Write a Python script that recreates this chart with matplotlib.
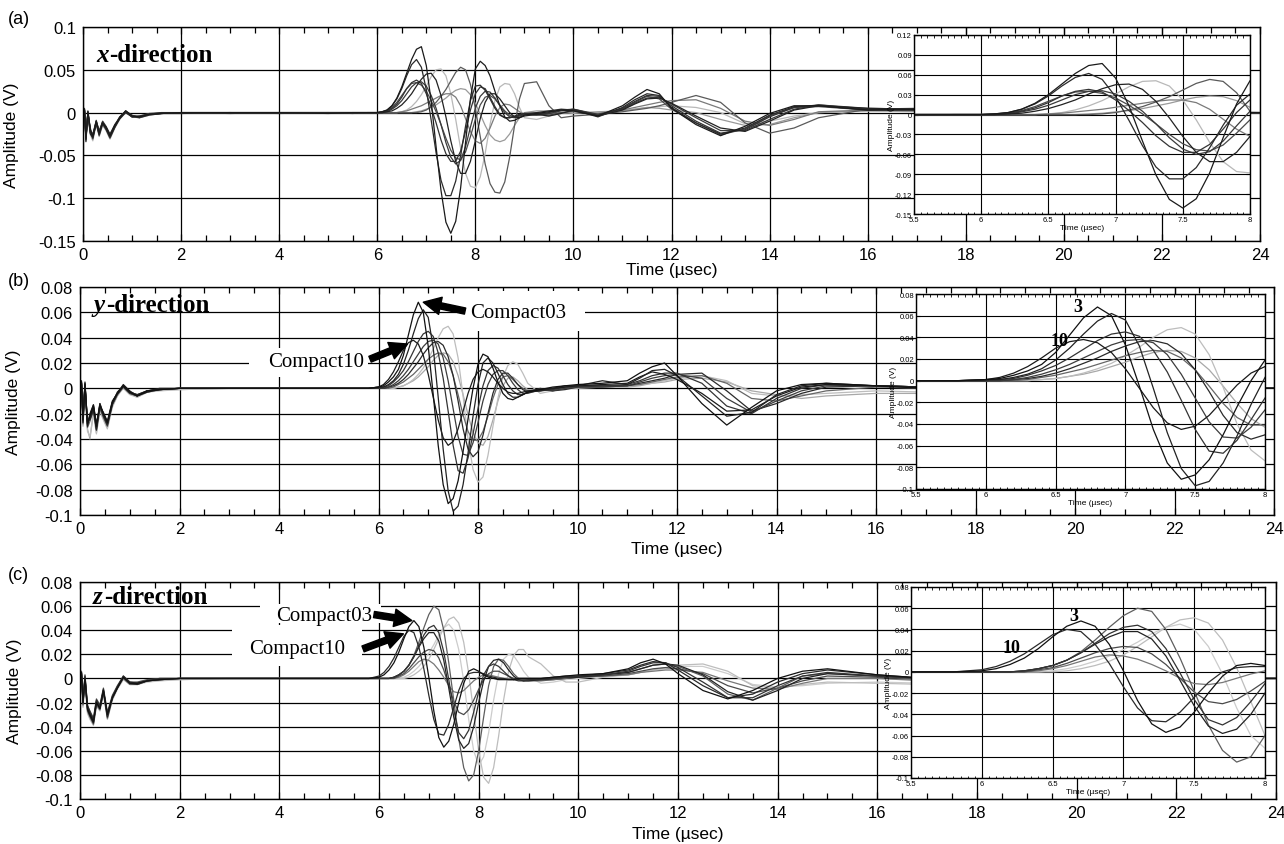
import matplotlib
matplotlib.use("Agg")
import matplotlib.pyplot as plt
from matplotlib.patches import Rectangle
from matplotlib.ticker import MultipleLocator

plt.rcParams['font.family'] = ['Liberation Sans', 'DejaVu Sans']
plt.rcParams['axes.unicode_minus'] = False

# ---------------- data ----------------
time_us = ([0, 0.03, 0.06, 0.1, 0.15, 0.2, 0.27, 0.33, 0.4, 0.47, 0.55, 0.65, 0.75, 0.87, 1.0, 1.15,
            1.35, 1.6, 2, 3, 4, 5, 5.5, 5.8]
           + [6.0, 6.1, 6.2, 6.3, 6.4, 6.5, 6.6, 6.7, 6.8, 6.9, 7.0, 7.1, 7.2, 7.3, 7.4, 7.5, 7.6, 7.7,
              7.8, 7.9, 8.0, 8.1, 8.2, 8.3, 8.4, 8.5, 8.6, 8.7, 8.8, 8.9, 9.0]
           + [9.25, 9.5, 9.75, 10, 10.5, 11, 11.25, 11.5, 11.75, 12, 12.5, 13, 13.5, 14, 14.5, 15, 16,
              17, 18, 20, 22, 24])

# (a) x-direction
x_a1 = ([0, 0.004, -0.034, 0.002, -0.020, -0.028, -0.010, -0.024, -0.012, -0.017, -0.027, -0.015, -0.006, 0.002, -0.004, -0.005, -0.002, -0.001, 0.000, 0.000, 0.000, -0.001, 0.000, 0.000]
        + [0, 0.001, 0.003, 0.008, 0.017, 0.030, 0.046, 0.062, 0.074, 0.077, 0.055, 0.013, -0.040, -0.091, -0.128, -0.141, -0.127, -0.088, -0.035, 0.016, 0.051, 0.060, 0.055, 0.043, 0.025, 0.008, -0.005, -0.010, -0.009, -0.006, -0.003]
        + [-0.001, 0.001, 0.003, 0.002, -0.004, 0.008, 0.018, 0.027, 0.022, 0.005, -0.014, -0.027, -0.016, -0.001, 0.008, 0.008, 0.003, 0.004, 0.002, 0.001, 0.000, 0.000])
x_a2 = ([0, 0.003, -0.030, 0.000, -0.024, -0.026, -0.012, -0.025, -0.011, -0.019, -0.028, -0.016, -0.005, 0.001, -0.005, -0.004, -0.002, 0.000, 0.000, -0.001, 0.000, 0.000, 0.000, 0.000]
        + [0, 0.001, 0.003, 0.008, 0.016, 0.028, 0.043, 0.056, 0.062, 0.053, 0.027, -0.009, -0.047, -0.079, -0.097, -0.097, -0.080, -0.050, -0.016, 0.014, 0.031, 0.032, 0.026, 0.016, 0.005, -0.003, -0.006, -0.006, -0.004, -0.002, -0.001]
        + [0.000, 0.002, 0.004, 0.003, -0.005, 0.006, 0.015, 0.022, 0.020, 0.006, -0.012, -0.025, -0.018, -0.003, 0.007, 0.008, 0.003, 0.003, 0.002, 0.001, 0.000, 0.000])
x_a3 = ([0, 0.002, -0.028, -0.002, -0.018, -0.030, -0.011, -0.022, -0.013, -0.018, -0.026, -0.014, -0.007, 0.002, -0.003, -0.006, -0.003, -0.001, 0.000, 0.000, -0.001, 0.000, 0.000, 0.000]
        + [0, 0.000, 0.002, 0.005, 0.010, 0.018, 0.028, 0.035, 0.038, 0.034, 0.022, 0.006, -0.012, -0.032, -0.048, -0.057, -0.057, -0.045, -0.022, 0.003, 0.022, 0.030, 0.028, 0.018, 0.007, -0.002, -0.006, -0.006, -0.005, -0.003, -0.001]
        + [-0.002, 0.000, 0.003, 0.004, -0.003, 0.005, 0.013, 0.020, 0.019, 0.008, -0.010, -0.024, -0.020, -0.005, 0.006, 0.009, 0.004, 0.003, 0.001, 0.001, 0.000, 0.000])
x_a4 = ([0, 0.005, -0.032, 0.001, -0.022, -0.027, -0.009, -0.023, -0.010, -0.016, -0.025, -0.015, -0.006, 0.001, -0.004, -0.005, -0.002, -0.001, 0.000, 0.000, 0.000, 0.000, -0.001, 0.000]
        + [0, 0, 0.001, 0.004, 0.008, 0.014, 0.022, 0.030, 0.035, 0.036, 0.031, 0.020, 0.005, -0.014, -0.035, -0.052, -0.060, -0.056, -0.040, -0.017, 0.005, 0.019, 0.025, 0.024, 0.017, 0.008, 0.000, -0.005, -0.006, -0.004, -0.002]
        + [-0.003, -0.001, 0.002, 0.004, -0.002, 0.004, 0.011, 0.017, 0.018, 0.010, -0.006, -0.021, -0.021, -0.008, 0.004, 0.009, 0.005, 0.004, 0.002, 0.001, 0.001, 0.000])
x_a5 = ([0, 0.003, -0.026, -0.001, -0.025, -0.029, -0.013, -0.026, -0.012, -0.019, -0.029, -0.017, -0.007, 0.000, -0.005, -0.005, -0.002, -0.001, -0.001, 0.000, 0.000, 0.000, 0.000, 0.000]
        + [0, 0, 0.001, 0.002, 0.005, 0.009, 0.015, 0.022, 0.031, 0.039, 0.045, 0.046, 0.038, 0.020, -0.005, -0.033, -0.057, -0.071, -0.071, -0.057, -0.033, -0.007, 0.012, 0.022, 0.022, 0.016, 0.008, 0.000, -0.005, -0.006, -0.004]
        + [-0.002, -0.004, -0.001, 0.003, -0.004, 0.003, 0.010, 0.016, 0.017, 0.011, -0.004, -0.018, -0.022, -0.010, 0.003, 0.008, 0.005, 0.004, 0.002, 0.001, 0.001, 0.000])
x_a6 = ([0, 0.004, -0.031, 0.001, -0.021, -0.025, -0.010, -0.021, -0.011, -0.017, -0.026, -0.014, -0.005, 0.002, -0.004, -0.004, -0.001, 0.000, 0.000, 0.000, 0.000, 0.000, 0.000, 0.000]
        + [0, 0.001, 0.002, 0.006, 0.012, 0.020, 0.028, 0.034, 0.035, 0.032, 0.025, 0.014, 0.001, -0.014, -0.030, -0.044, -0.053, -0.055, -0.046, -0.028, -0.008, 0.009, 0.018, 0.020, 0.016, 0.009, 0.002, -0.003, -0.005, -0.004, -0.002]
        + [-0.001, -0.003, 0.000, 0.002, -0.003, 0.004, 0.012, 0.019, 0.016, 0.004, -0.012, -0.026, -0.019, -0.004, 0.006, 0.007, 0.003, 0.004, 0.002, 0.001, 0.000, 0.000])
x_a7 = ([0, 0.002, -0.029, 0.000, -0.023, -0.031, -0.012, -0.027, -0.014, -0.020, -0.030, -0.017, -0.006, 0.001, -0.005, -0.006, -0.002, -0.001, 0.000, 0.000, 0.000, 0.000, 0.000, 0.000]
        + [0, 0, 0, 0, 0, 0, 0, 0, 0, 0.001, 0.003, 0.007, 0.012, 0.019, 0.027, 0.037, 0.047, 0.053, 0.050, 0.033, 0.005, -0.028, -0.060, -0.083, -0.093, -0.094, -0.081, -0.052, -0.015, 0.016, 0.034]
        + [0.036, 0.008, -0.006, -0.004, -0.002, 0.001, 0.003, 0.005, 0.008, 0.012, 0.020, 0.012, -0.012, -0.024, -0.018, -0.006, 0.004, 0.005, 0.003, 0.001, 0.000, 0.000])
x_a8 = ([0, 0.001, -0.030, -0.003, -0.026, -0.033, -0.014, -0.028, -0.015, -0.021, -0.031, -0.018, -0.008, 0.000, -0.005, -0.006, -0.003, -0.001, -0.001, 0.000, 0.000, 0.000, 0.000, 0.000]
        + [0, 0, 0, 0, 0, 0.001, 0.003, 0.007, 0.013, 0.021, 0.031, 0.042, 0.050, 0.051, 0.043, 0.022, -0.008, -0.042, -0.071, -0.086, -0.088, -0.075, -0.048, -0.014, 0.014, 0.030, 0.034, 0.033, 0.022, 0.006, -0.006]
        + [-0.008, -0.004, -0.001, 0.001, 0.000, 0.002, 0.004, 0.006, 0.007, 0.008, 0.006, 0.000, -0.013, -0.010, -0.004, 0.000, 0.002, 0.001, 0.001, 0.000, 0.000, 0.000])
x_a9 = ([0, 0.003, -0.027, 0.000, -0.021, -0.028, -0.011, -0.024, -0.012, -0.018, -0.027, -0.016, -0.006, 0.001, -0.004, -0.005, -0.002, -0.001, 0.000, 0.000, 0.000, 0.000, 0.000, 0.000]
        + [0, 0, 0, 0, 0, 0.001, 0.002, 0.004, 0.006, 0.008, 0.011, 0.014, 0.017, 0.020, 0.022, 0.022, 0.018, 0.008, -0.007, -0.022, -0.033, -0.036, -0.030, -0.018, -0.004, 0.006, 0.010, 0.009, 0.005, 0.001, -0.002]
        + [-0.003, -0.002, 0.000, 0.001, -0.001, 0.003, 0.006, 0.009, 0.012, 0.014, 0.015, 0.005, -0.010, -0.015, -0.008, 0.001, 0.003, 0.002, 0.001, 0.000, 0.000, 0.000])
x_a10 = ([0, 0.002, -0.028, -0.001, -0.024, -0.029, -0.012, -0.025, -0.013, -0.019, -0.028, -0.016, -0.007, 0.001, -0.004, -0.005, -0.002, -0.001, 0.000, 0.000, 0.000, 0.000, 0.000, 0.000]
         + [0, 0, 0, 0, 0, 0, 0, 0, 0.001, 0.002, 0.004, 0.006, 0.009, 0.013, 0.017, 0.022, 0.026, 0.028, 0.027, 0.021, 0.011, -0.002, -0.015, -0.026, -0.032, -0.034, -0.032, -0.025, -0.015, -0.006, 0.000]
         + [0.002, 0.002, 0.000, -0.001, 0.001, 0.002, 0.004, 0.006, 0.005, 0.003, 0.000, -0.008, -0.015, -0.014, -0.006, 0.000, 0.002, 0.002, 0.001, 0.000, 0.000, 0.000])

# (b) y-direction
y_b1 = ([0, 0.005, -0.025, 0.004, -0.028, -0.022, -0.014, -0.030, -0.013, -0.020, -0.027, -0.011, -0.004, 0.002, -0.003, -0.006, -0.002, -0.001, 0.000, 0.000, 0.000, 0.000, 0.000, 0.000]
        + [0.001, 0.002, 0.005, 0.009, 0.015, 0.026, 0.042, 0.058, 0.068, 0.060, 0.033, -0.005, -0.045, -0.076, -0.091, -0.087, -0.073, -0.050, -0.024, 0.000, 0.019, 0.027, 0.025, 0.016, 0.005, -0.004, -0.008, -0.009, -0.007, -0.005, -0.003]
        + [-0.001, 0.001, 0.002, 0.003, 0.004, 0.006, 0.012, 0.017, 0.020, 0.010, -0.012, -0.029, -0.015, -0.002, 0.003, 0.004, 0.002, 0.000, 0.000, 0.000, 0.000, 0.000])
y_b2 = ([0, 0.004, -0.023, 0.003, -0.026, -0.024, -0.015, -0.032, -0.012, -0.021, -0.028, -0.012, -0.003, 0.002, -0.003, -0.005, -0.002, 0.000, 0.000, 0.000, 0.000, 0.000, 0.000, 0.000]
        + [0.001, 0.001, 0.003, 0.006, 0.011, 0.019, 0.030, 0.043, 0.055, 0.062, 0.056, 0.032, -0.007, -0.048, -0.081, -0.097, -0.093, -0.076, -0.051, -0.022, 0.003, 0.020, 0.024, 0.020, 0.012, 0.003, -0.004, -0.007, -0.007, -0.005, -0.003]
        + [-0.002, 0.000, 0.002, 0.002, 0.006, 0.003, 0.008, 0.014, 0.015, 0.010, -0.006, -0.022, -0.019, -0.005, 0.002, 0.004, 0.002, 0.001, 0.000, 0.000, 0.000, 0.000])
y_b3 = ([0, 0.006, -0.027, 0.005, -0.030, -0.020, -0.013, -0.028, -0.014, -0.019, -0.026, -0.010, -0.004, 0.003, -0.002, -0.006, -0.003, -0.001, 0.000, 0.000, 0.000, 0.000, 0.000, 0.000]
        + [0.001, 0.003, 0.007, 0.013, 0.021, 0.030, 0.036, 0.038, 0.035, 0.026, 0.011, -0.007, -0.025, -0.039, -0.045, -0.042, -0.032, -0.018, -0.004, 0.007, 0.013, 0.015, 0.013, 0.009, 0.004, 0.000, -0.003, -0.004, -0.004, -0.003, -0.002]
        + [-0.001, 0.000, 0.001, 0.002, 0.003, 0.004, 0.009, 0.013, 0.011, 0.007, -0.004, -0.018, -0.017, -0.006, 0.001, 0.003, 0.002, 0.001, 0.000, 0.000, 0.000, 0.000])
y_b4 = ([0, 0.004, -0.024, 0.002, -0.029, -0.023, -0.016, -0.031, -0.015, -0.022, -0.029, -0.013, -0.005, 0.001, -0.004, -0.006, -0.002, -0.001, 0.000, 0.000, 0.000, 0.000, 0.000, 0.000]
        + [0, 0.001, 0.002, 0.005, 0.009, 0.014, 0.021, 0.029, 0.037, 0.043, 0.045, 0.041, 0.028, 0.008, -0.018, -0.045, -0.065, -0.067, -0.055, -0.036, -0.016, 0.002, 0.014, 0.018, 0.016, 0.010, 0.003, -0.002, -0.005, -0.005, -0.003]
        + [-0.002, -0.001, 0.001, 0.002, 0.002, 0.003, 0.006, 0.010, 0.012, 0.012, 0.004, -0.014, -0.020, -0.008, 0.000, 0.003, 0.002, 0.001, 0.000, 0.000, 0.000, 0.000])
y_b5 = ([0, 0.005, -0.026, 0.003, -0.027, -0.021, -0.013, -0.029, -0.012, -0.020, -0.027, -0.011, -0.004, 0.002, -0.003, -0.005, -0.002, -0.001, 0.000, 0.000, 0.000, 0.000, 0.000, 0.000]
        + [0, 0, 0.001, 0.003, 0.006, 0.010, 0.015, 0.021, 0.027, 0.033, 0.037, 0.038, 0.035, 0.024, 0.006, -0.016, -0.038, -0.052, -0.053, -0.043, -0.027, -0.010, 0.003, 0.011, 0.014, 0.014, 0.010, 0.004, -0.001, -0.004, -0.004]
        + [-0.001, -0.002, 0.000, 0.001, 0.001, 0.002, 0.005, 0.008, 0.010, 0.011, 0.008, -0.008, -0.019, -0.010, -0.002, 0.002, 0.002, 0.001, 0.000, 0.000, 0.000, 0.000])
y_b6 = ([0, 0.003, -0.022, 0.002, -0.025, -0.025, -0.017, -0.033, -0.014, -0.021, -0.029, -0.012, -0.004, 0.002, -0.003, -0.006, -0.002, -0.001, 0.000, 0.000, 0.000, 0.000, 0.000, 0.000]
        + [0, 0, 0.001, 0.002, 0.004, 0.007, 0.011, 0.016, 0.021, 0.027, 0.032, 0.036, 0.037, 0.034, 0.025, 0.010, -0.010, -0.032, -0.048, -0.054, -0.050, -0.037, -0.020, -0.004, 0.007, 0.012, 0.012, 0.008, 0.003, -0.001, -0.003]
        + [0.000, -0.002, -0.001, 0.001, 0.002, 0.002, 0.004, 0.006, 0.008, 0.011, 0.012, -0.002, -0.018, -0.012, -0.004, 0.001, 0.002, 0.001, 0.000, 0.000, 0.000, 0.000])
y_b7 = ([0, 0.004, -0.028, 0.001, -0.031, -0.026, -0.017, -0.033, -0.016, -0.023, -0.030, -0.013, -0.005, 0.001, -0.004, -0.006, -0.003, -0.001, 0.000, 0.000, 0.000, 0.000, 0.000, 0.000]
        + [0, 0, 0, 0.001, 0.003, 0.005, 0.008, 0.011, 0.015, 0.019, 0.023, 0.026, 0.028, 0.027, 0.021, 0.010, -0.005, -0.021, -0.034, -0.041, -0.041, -0.034, -0.022, -0.008, 0.003, 0.009, 0.010, 0.007, 0.003, 0.000, -0.002]
        + [-0.001, -0.001, 0.000, 0.001, 0.001, 0.002, 0.003, 0.005, 0.007, 0.009, 0.010, 0.004, -0.008, -0.010, -0.006, -0.002, 0.001, 0.000, -0.001, -0.001, 0.000, 0.000])
y_b8 = ([0, 0.002, -0.030, 0.000, -0.034, -0.038, -0.020, -0.036, -0.018, -0.025, -0.032, -0.015, -0.006, 0.000, -0.005, -0.007, -0.003, -0.002, -0.001, 0.000, 0.000, 0.000, 0.000, 0.000]
        + [0, 0, 0, 0, 0.001, 0.002, 0.004, 0.007, 0.011, 0.016, 0.023, 0.031, 0.040, 0.047, 0.049, 0.043, 0.024, -0.006, -0.040, -0.064, -0.074, -0.070, -0.053, -0.030, -0.008, 0.009, 0.018, 0.021, 0.019, 0.012, 0.004]
        + [-0.004, -0.002, 0.000, 0.001, 0.001, 0.002, 0.003, 0.004, 0.006, 0.008, 0.010, 0.006, -0.004, -0.006, -0.005, -0.004, -0.002, -0.003, -0.002, -0.001, 0.000, 0.000])
y_b9 = ([0, 0.003, -0.029, 0.001, -0.032, -0.040, -0.019, -0.035, -0.017, -0.024, -0.031, -0.014, -0.006, 0.001, -0.004, -0.007, -0.003, -0.001, -0.001, 0.000, 0.000, 0.000, 0.000, 0.000]
        + [0, 0, 0, 0, 0.001, 0.002, 0.004, 0.006, 0.009, 0.013, 0.017, 0.022, 0.026, 0.028, 0.027, 0.021, 0.010, -0.005, -0.021, -0.035, -0.043, -0.045, -0.038, -0.025, -0.010, 0.002, 0.008, 0.009, 0.006, 0.002, -0.001]
        + [-0.002, -0.001, 0.000, 0.000, 0.001, 0.001, 0.002, 0.004, 0.005, 0.007, 0.008, 0.005, -0.002, -0.005, -0.008, -0.006, -0.004, -0.004, -0.003, -0.001, 0.000, 0.000])

# (c) z-direction
z_c1 = ([0, 0.005, -0.020, 0.000, -0.025, -0.030, -0.036, -0.020, -0.025, -0.010, -0.030, -0.016, -0.008, 0.001, -0.004, -0.004, -0.002, -0.001, 0.000, 0.000, 0.000, 0.000, 0.000, 0.000]
        + [0.001, 0.003, 0.007, 0.013, 0.022, 0.033, 0.043, 0.048, 0.043, 0.026, 0.001, -0.027, -0.049, -0.057, -0.052, -0.038, -0.020, -0.004, 0.006, 0.008, 0.006, 0.003, 0.001, 0.000, -0.001, -0.001, -0.001, -0.001, 0.000, 0.000, 0.000]
        + [0.000, 0.001, 0.002, 0.003, 0.004, 0.008, 0.013, 0.016, 0.012, 0.004, -0.010, -0.017, -0.010, 0.000, 0.006, 0.008, 0.003, 0.000, -0.001, 0.000, 0.000, 0.000])
z_c2 = ([0, 0.004, -0.018, 0.002, -0.022, -0.028, -0.034, -0.018, -0.023, -0.009, -0.031, -0.015, -0.007, 0.002, -0.003, -0.004, -0.002, 0.000, 0.000, 0.000, 0.000, 0.000, 0.000, 0.000]
        + [0.002, 0.005, 0.010, 0.017, 0.026, 0.035, 0.040, 0.038, 0.026, 0.008, -0.014, -0.034, -0.046, -0.047, -0.038, -0.024, -0.010, 0.000, 0.004, 0.005, 0.005, 0.004, 0.002, 0.001, 0.000, 0.000, -0.001, -0.001, 0.000, 0.000, 0.000]
        + [0.000, 0.001, 0.002, 0.002, 0.004, 0.007, 0.011, 0.014, 0.013, 0.007, -0.006, -0.016, -0.013, -0.003, 0.004, 0.007, 0.003, 0.000, -0.001, 0.000, 0.000, 0.000])
z_c3 = ([0, 0.003, -0.022, -0.001, -0.027, -0.032, -0.038, -0.022, -0.026, -0.012, -0.033, -0.017, -0.008, 0.000, -0.005, -0.005, -0.002, -0.001, 0.000, 0.000, 0.000, 0.000, 0.000, 0.000]
        + [0, 0, 0, 0.001, 0.003, 0.006, 0.011, 0.019, 0.030, 0.042, 0.053, 0.060, 0.057, 0.040, 0.013, -0.018, -0.050, -0.074, -0.085, -0.080, -0.060, -0.032, -0.006, 0.010, 0.016, 0.015, 0.010, 0.004, 0.000, -0.002, -0.002]
        + [-0.002, -0.001, 0.000, 0.002, 0.003, 0.005, 0.008, 0.011, 0.012, 0.010, 0.002, -0.013, -0.018, -0.008, 0.002, 0.004, 0.002, -0.001, -0.002, -0.001, 0.000, 0.000])
z_c4 = ([0, 0.005, -0.019, 0.001, -0.024, -0.029, -0.035, -0.021, -0.024, -0.011, -0.029, -0.016, -0.007, 0.001, -0.004, -0.004, -0.002, -0.001, 0.000, 0.000, 0.000, 0.000, 0.000, 0.000]
        + [0, 0, 0, 0.001, 0.003, 0.006, 0.011, 0.018, 0.027, 0.036, 0.042, 0.044, 0.038, 0.022, -0.001, -0.026, -0.045, -0.050, -0.043, -0.028, -0.011, 0.003, 0.010, 0.012, 0.010, 0.006, 0.002, -0.001, -0.002, -0.002, -0.001]
        + [-0.001, 0.000, 0.001, 0.002, 0.003, 0.006, 0.010, 0.013, 0.013, 0.009, -0.003, -0.016, -0.016, -0.006, 0.002, 0.005, 0.002, 0.000, -0.001, 0.000, 0.000, 0.000])
z_c5 = ([0, 0.004, -0.021, 0.000, -0.026, -0.031, -0.037, -0.019, -0.025, -0.010, -0.032, -0.016, -0.008, 0.001, -0.004, -0.005, -0.002, -0.001, 0.000, 0.000, 0.000, 0.000, 0.000, 0.000]
        + [0, 0, 0, 0.001, 0.003, 0.006, 0.011, 0.018, 0.026, 0.033, 0.038, 0.038, 0.031, 0.015, -0.008, -0.032, -0.051, -0.058, -0.054, -0.040, -0.020, -0.002, 0.010, 0.015, 0.016, 0.013, 0.007, 0.002, -0.001, -0.002, -0.002]
        + [-0.001, 0.000, 0.001, 0.001, 0.003, 0.005, 0.008, 0.011, 0.012, 0.011, 0.003, -0.011, -0.018, -0.010, 0.000, 0.004, 0.002, 0.000, -0.001, 0.000, 0.000, 0.000])
z_c6 = ([0, 0.006, -0.020, 0.003, -0.023, -0.027, -0.033, -0.017, -0.022, -0.008, -0.028, -0.014, -0.006, 0.002, -0.003, -0.003, -0.001, 0.000, 0.000, 0.000, 0.000, 0.000, 0.000, 0.000]
        + [0, 0, 0, 0, 0.002, 0.004, 0.008, 0.013, 0.018, 0.022, 0.024, 0.023, 0.017, 0.007, -0.006, -0.019, -0.028, -0.030, -0.026, -0.018, -0.009, -0.001, 0.004, 0.006, 0.006, 0.004, 0.002, 0.000, -0.001, -0.001, -0.001]
        + [-0.001, -0.001, 0.000, 0.001, 0.002, 0.004, 0.006, 0.008, 0.009, 0.008, 0.004, -0.006, -0.012, -0.008, -0.002, 0.002, 0.001, -0.001, -0.002, -0.001, 0.000, 0.000])
z_c7 = ([0, 0.004, -0.020, 0.000, -0.024, -0.029, -0.036, -0.020, -0.024, -0.010, -0.030, -0.015, -0.007, 0.001, -0.004, -0.004, -0.002, -0.001, 0.000, 0.000, 0.000, 0.000, 0.000, 0.000]
        + [0, 0, 0, 0, 0.001, 0.003, 0.006, 0.010, 0.014, 0.016, 0.015, 0.012, 0.007, 0.001, -0.006, -0.011, -0.012, -0.010, -0.006, -0.002, 0.001, 0.003, 0.003, 0.002, 0.001, 0.000, 0.000, 0.000, 0.000, 0.000, 0.000]
        + [0.000, 0.000, 0.001, 0.001, 0.002, 0.003, 0.005, 0.006, 0.007, 0.007, 0.005, -0.002, -0.008, -0.009, -0.004, 0.000, 0.000, -0.002, -0.003, -0.002, -0.001, 0.000])
z_c8 = ([0, 0.002, -0.024, -0.003, -0.029, -0.034, -0.039, -0.023, -0.027, -0.013, -0.034, -0.018, -0.009, -0.001, -0.005, -0.005, -0.003, -0.002, -0.001, 0.000, 0.000, 0.000, 0.000, 0.000]
        + [0, 0, 0, 0, 0, 0, 0.001, 0.003, 0.006, 0.010, 0.016, 0.024, 0.033, 0.042, 0.049, 0.051, 0.046, 0.030, 0.004, -0.028, -0.060, -0.082, -0.087, -0.074, -0.048, -0.018, 0.006, 0.019, 0.024, 0.024, 0.018]
        + [0.012, 0.002, -0.003, -0.003, 0.001, 0.003, 0.005, 0.007, 0.009, 0.011, 0.012, 0.006, -0.006, -0.008, -0.005, -0.003, -0.004, -0.005, -0.004, -0.002, -0.001, 0.000])
z_c9 = ([0, 0.003, -0.023, -0.002, -0.028, -0.033, -0.038, -0.022, -0.026, -0.012, -0.033, -0.017, -0.008, 0.000, -0.004, -0.005, -0.002, -0.001, -0.001, 0.000, 0.000, 0.000, 0.000, 0.000]
        + [0, 0, 0, 0, 0, 0.001, 0.003, 0.006, 0.010, 0.015, 0.021, 0.028, 0.036, 0.042, 0.045, 0.040, 0.024, -0.002, -0.034, -0.060, -0.072, -0.065, -0.045, -0.018, 0.004, 0.016, 0.020, 0.019, 0.013, 0.006, 0.001]
        + [-0.004, -0.003, -0.001, 0.000, 0.002, 0.003, 0.005, 0.007, 0.008, 0.010, 0.010, 0.004, -0.005, -0.007, -0.006, -0.004, -0.003, -0.004, -0.003, -0.002, -0.001, 0.000])

# axis ticks / labels
main_xticks = [0, 2, 4, 6, 8, 10, 12, 14, 16, 18, 20, 22, 24]
a_yticks = [-0.15, -0.1, -0.05, 0, 0.05, 0.1]
bc_yticks = [-0.1, -0.08, -0.06, -0.04, -0.02, 0, 0.02, 0.04, 0.06, 0.08]
inset_xticks = [5.5, 6, 6.5, 7, 7.5, 8]
inset_a_yticks = [-0.15, -0.12, -0.09, -0.06, -0.03, 0, 0.03, 0.06, 0.09, 0.12]
inset_bc_yticks = [-0.1, -0.08, -0.06, -0.04, -0.02, 0, 0.02, 0.04, 0.06, 0.08]

# ---------------- styling ----------------
a_series = [x_a8, x_a10, x_a9, x_a7, x_a6, x_a4, x_a3, x_a5, x_a2, x_a1]
a_colors = ['#b8b8b8', '#9a9a9a', '#7a7a7a', '#5a5a5a', '#4a4a4a', '#3a3a3a', '#333333', '#222222', '#2a2a2a', '#1a1a1a']
b_series = [y_b9, y_b8, y_b7, y_b6, y_b5, y_b4, y_b3, y_b2, y_b1]
b_colors = ['#a8a8a8', '#bdbdbd', '#666666', '#2a2a2a', '#3c3c3c', '#333333', '#1a1a1a', '#222222', '#111111']
c_series = [z_c9, z_c8, z_c7, z_c6, z_c3, z_c5, z_c4, z_c2, z_c1]
c_colors = ['#cccccc', '#bdbdbd', '#777777', '#4a4a4a', '#5e5e5e', '#222222', '#333333', '#2a2a2a', '#111111']

W, H = 1284, 845
fig = plt.figure(figsize=(W / 100, H / 100), dpi=100)


def fr(l, t, r, b):
    return [l / W, 1 - b / H, (r - l) / W, (b - t) / H]


def style_main(ax, ylim, yticks, labelpad, ylab_x):
    ax.set_xlim(0, 24)
    ax.set_ylim(*ylim)
    ax.set_xticks(main_xticks)
    ax.set_xticklabels([str(v) for v in main_xticks])
    ax.xaxis.set_minor_locator(MultipleLocator(0.5))
    ax.set_yticks(yticks)
    ax.set_yticklabels([f"{v:g}" for v in yticks])
    ax.set_axisbelow(True)
    ax.grid(True, which='major', color='black', lw=0.9)
    ax.tick_params(axis='x', which='both', direction='in', top=True, bottom=True,
                   labelsize=12, pad=4, color='black')
    ax.tick_params(axis='x', which='major', length=5, width=0.9)
    ax.tick_params(axis='x', which='minor', length=4, width=0.9)
    ax.tick_params(axis='y', length=0, labelsize=12, pad=5)
    for s in ax.spines.values():
        s.set_linewidth(1.0)
    ax.set_xlabel('Time (µsec)', fontsize=12.5, labelpad=labelpad)
    ax.set_ylabel('Amplitude (V)', fontsize=12.5)
    ax.yaxis.set_label_coords(ylab_x, 0.5)


def style_inset(ax, ylim, yticks):
    ax.set_facecolor('white')
    ax.set_xlim(5.5, 8)
    ax.set_ylim(*ylim)
    ax.set_xticks(inset_xticks)
    ax.set_xticklabels([f"{v:g}" for v in inset_xticks])
    ax.set_yticks(yticks)
    ax.set_yticklabels([f"{v:g}" for v in yticks])
    ax.xaxis.set_minor_locator(MultipleLocator(0.05))
    ax.set_axisbelow(True)
    ax.grid(True, which='major', color='black', lw=0.8)
    ax.tick_params(which='both', direction='in', top=True, right=True, labelsize=5.5, pad=1.5)
    ax.tick_params(which='major', length=3, width=0.8)
    ax.tick_params(which='minor', length=1.8, width=0.6)
    for s in ax.spines.values():
        s.set_linewidth(1.0)
    ax.set_xlabel('Time (µsec)', fontsize=6, labelpad=1)
    ax.set_ylabel('Amplitude (V)', fontsize=6, labelpad=0)


def direction_label(ax, letter, x0, y0, offset):
    ax.text(x0, y0, letter, transform=ax.transAxes, family='Liberation Serif',
            style='italic', weight='bold', fontsize=18, va='baseline', ha='left', zorder=6)
    ax.annotate('-direction', xy=(x0, y0), xycoords='axes fraction', xytext=(offset, 0),
                textcoords='offset points', family='Liberation Serif', weight='bold',
                fontsize=18, va='baseline', ha='left', zorder=6)


def arrow(ax, tail, tip):
    ax.annotate('', xy=tip, xytext=tail,
                arrowprops=dict(arrowstyle='simple,head_length=0.9,head_width=0.9,tail_width=0.32',
                                color='black', mutation_scale=14, shrinkA=0, shrinkB=0), zorder=6)


def white_box(ax, x0, x1, y0, y1):
    ax.add_patch(Rectangle((x0, y0), x1 - x0, y1 - y0, facecolor='white', edgecolor='none', zorder=1))


panels = [
    dict(main=fr(83, 28, 1260, 242), inset=fr(914, 36, 1250, 215), series=a_series, colors=a_colors,
         ylim=(-0.15, 0.1), yticks=a_yticks, iylim=(-0.15, 0.12), iyticks=inset_a_yticks,
         labelpad=0, ylab_x=-0.054, tag='(a)', tag_y=20, letter='x', lab_y=0.84, off=9.5),
    dict(main=fr(80, 288, 1274, 516), inset=fr(916, 295, 1265, 490), series=b_series, colors=b_colors,
         ylim=(-0.1, 0.08), yticks=bc_yticks, iylim=(-0.1, 0.08), iyticks=inset_bc_yticks,
         labelpad=4, ylab_x=-0.049, tag='(b)', tag_y=282, letter='y', lab_y=0.893, off=9.5),
    dict(main=fr(80, 583, 1276, 800), inset=fr(911, 588, 1265, 779), series=c_series, colors=c_colors,
         ylim=(-0.1, 0.08), yticks=bc_yticks, iylim=(-0.1, 0.08), iyticks=inset_bc_yticks,
         labelpad=5, ylab_x=-0.0485, tag='(c)', tag_y=576, letter='z', lab_y=0.902, off=8.0),
]

main_axes = []
inset_axes = []
for p in panels:
    ax = fig.add_axes(p['main'])
    for vals, col in zip(p['series'], p['colors']):
        ax.plot(time_us, vals, color=col, lw=0.9, zorder=2)
    style_main(ax, p['ylim'], p['yticks'], p['labelpad'], p['ylab_x'])
    direction_label(ax, p['letter'], 0.011, p['lab_y'], p['off'])
    fig.text(0.006, 1 - p['tag_y'] / H, p['tag'], fontsize=13, va='center', ha='left')
    main_axes.append(ax)

    ins = fig.add_axes(p['inset'])
    for vals, col in zip(p['series'], p['colors']):
        ins.plot(time_us, vals, color=col, lw=0.9, zorder=2)
    style_inset(ins, p['iylim'], p['iyticks'])
    inset_axes.append(ins)

# annotations panel (b)
axb = main_axes[1]
white_box(axb, 3.40, 5.78, 0.009, 0.032)
white_box(axb, 7.55, 10.15, 0.045, 0.077)
axb.text(5.72, 0.021, 'Compact10', family='Liberation Serif', fontsize=15, ha='right', va='center', zorder=5)
axb.text(7.84, 0.0602, 'Compact03', family='Liberation Serif', fontsize=15, ha='left', va='center', zorder=5)
arrow(axb, (5.83, 0.023), (6.58, 0.035))
arrow(axb, (7.74, 0.061), (6.90, 0.068))

# annotations panel (c)
axc = main_axes[2]
white_box(axc, 3.05, 5.66, 0.010, 0.044)
white_box(axc, 3.61, 6.05, 0.046, 0.0615)
axc.text(5.86, 0.0525, 'Compact03', family='Liberation Serif', fontsize=15, ha='right', va='center', zorder=5)
axc.text(5.32, 0.025, 'Compact10', family='Liberation Serif', fontsize=15, ha='right', va='center', zorder=5)
arrow(axc, (5.9, 0.053), (6.66, 0.048))
arrow(axc, (5.68, 0.0245), (6.49, 0.037))

# inset labels
inb = inset_axes[1]
inb.text(6.66, 0.0686, '3', family='Liberation Serif', weight='bold', fontsize=13, ha='center', va='center', zorder=5)
inb.text(6.53, 0.037, '10', family='Liberation Serif', weight='bold', fontsize=13, ha='center', va='center', zorder=5)
inc = inset_axes[2]
inc.text(6.65, 0.053, '3', family='Liberation Serif', weight='bold', fontsize=13, ha='center', va='center', zorder=5)
inc.text(6.21, 0.023, '10', family='Liberation Serif', weight='bold', fontsize=13, ha='center', va='center', zorder=5)

fig.savefig('out.png', dpi=100)
